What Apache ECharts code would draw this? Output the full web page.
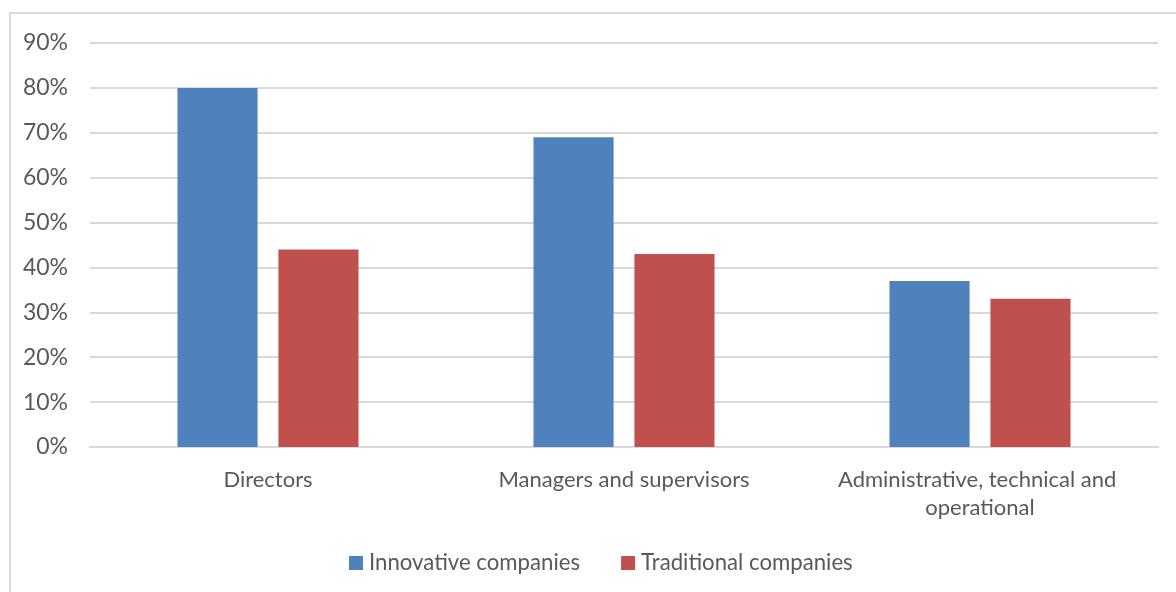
<!DOCTYPE html>
<html>
<head>
<meta charset="utf-8">
<script src="https://cdn.jsdelivr.net/npm/echarts@6/dist/echarts.min.js"></script>
<style>
  html, body { margin: 0; padding: 0; background: #fff; }
  #chart { width: 1176px; height: 592px; }
</style>
</head>
<body>
<div id="chart"></div>
<script>
// Share of staff by job level, innovative vs traditional companies
const categories = ['Directors', 'Managers and supervisors', 'Administrative, technical and operational'];
const innovative = [80, 69, 37];
const traditional = [44, 43, 33];
const seriesNames = ['Innovative companies', 'Traditional companies'];

const FONT = 'Lato';
const TEXT = '#595959';
const LINE = '#D9D9D9';

const chart = echarts.init(document.getElementById('chart'));
chart.setOption({
  animation: false,
  backgroundColor: '#fff',
  graphic: [{
    type: 'rect',
    shape: { x: 10, y: 13, width: 1200, height: 600 },
    style: { fill: 'none', stroke: LINE, lineWidth: 2 },
    silent: true,
    z: -1
  }],
  grid: { left: 90, right: 18, top: 43, bottom: 145, containLabel: false },
  legend: {
    data: seriesNames,
    bottom: 13,
    left: 344,
    itemWidth: 14,
    itemHeight: 14,
    itemGap: 41,
    icon: 'rect',
    textStyle: { fontFamily: FONT, fontSize: 22.2, color: TEXT, padding: [0, 0, 0, 1] }
  },
  xAxis: {
    type: 'category',
    data: categories,
    axisLine: { show: true, lineStyle: { color: LINE, width: 2 } },
    axisTick: { show: false },
    axisLabel: {
      fontFamily: FONT, fontSize: 22, color: TEXT,
      margin: 19, lineHeight: 28,
      width: 320, overflow: 'break', interval: 0
    }
  },
  yAxis: {
    type: 'value',
    min: 0, max: 90, interval: 10,
    axisLine: { show: false },
    axisTick: { show: false },
    splitLine: { lineStyle: { color: LINE, width: 2 } },
    axisLabel: {
      fontFamily: FONT, fontSize: 23, color: TEXT, margin: 22,
      formatter: v => v + '%'
    }
  },
  series: [
    {
      name: seriesNames[0], type: 'bar', data: innovative,
      barWidth: '22.5%', barGap: '26%',
      itemStyle: { color: '#4F81BD' }
    },
    {
      name: seriesNames[1], type: 'bar', data: traditional,
      barWidth: '22.5%',
      itemStyle: { color: '#C0504D' }
    }
  ]
});
</script>
</body>
</html>
